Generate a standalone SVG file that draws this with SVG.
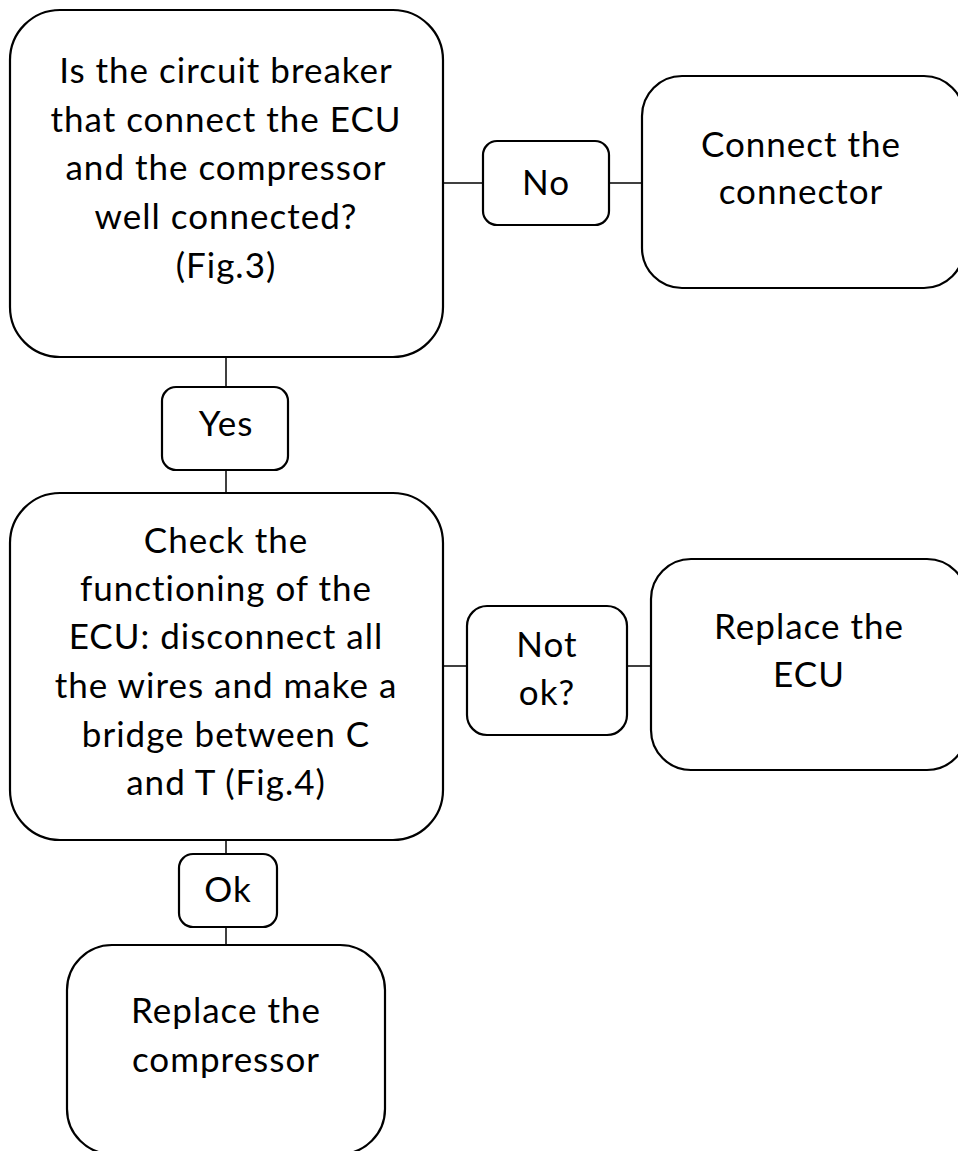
<svg xmlns="http://www.w3.org/2000/svg" width="958" height="1151" viewBox="0 0 958 1151">
<style>
.box{fill:#fff;stroke:#000;stroke-width:2.2}
.ln{stroke:#000;stroke-width:1.5;fill:none}
text{font-family:Lato,"Open Sans",sans-serif;font-size:35px;letter-spacing:1px;fill:#000;text-anchor:middle}
</style>
<rect width="958" height="1151" fill="#fff"/>
<g id="connectors">
<line class="ln" x1="443" y1="183" x2="483" y2="183"/>
<line class="ln" x1="609" y1="183" x2="642" y2="183"/>
<line class="ln" x1="226" y1="357" x2="226" y2="387"/>
<line class="ln" x1="226" y1="470" x2="226" y2="493"/>
<line class="ln" x1="443" y1="666" x2="467" y2="666"/>
<line class="ln" x1="627" y1="666" x2="651" y2="666"/>
<line class="ln" x1="226" y1="840" x2="226" y2="854"/>
<line class="ln" x1="226" y1="927" x2="226" y2="945"/>
</g>
<g id="q1">
<rect class="box" x="10" y="10" width="433" height="347" rx="50"/>
<text x="226" y="83">Is the circuit breaker</text>
<text x="226" y="132">that connect the ECU</text>
<text x="226" y="180">and the compressor</text>
<text x="226" y="229">well connected?</text>
<text x="226" y="278">(Fig.3)</text>
</g>
<g id="no">
<rect class="box" x="483" y="141" width="126" height="84" rx="14"/>
<text x="546" y="195">No</text>
</g>
<g id="connect">
<rect class="box" x="642" y="76" width="322" height="212" rx="40"/>
<text x="801" y="157">Connect the</text>
<text x="801" y="204">connector</text>
</g>
<g id="yes">
<rect class="box" x="162" y="387" width="126" height="83" rx="14"/>
<text x="226" y="436">Yes</text>
</g>
<g id="check">
<rect class="box" x="10" y="493" width="433" height="347" rx="50"/>
<text x="226" y="553">Check the</text>
<text x="226" y="601">functioning of the</text>
<text x="226" y="649">ECU: disconnect all</text>
<text x="226" y="698">the wires and make a</text>
<text x="226" y="747">bridge between C</text>
<text x="226" y="795">and T (Fig.4)</text>
</g>
<g id="notok">
<rect class="box" x="467" y="606" width="160" height="129" rx="20"/>
<text x="547" y="657">Not</text>
<text x="547" y="705">ok?</text>
</g>
<g id="replaceecu">
<rect class="box" x="651" y="559" width="316" height="211" rx="40"/>
<text x="809" y="639">Replace the</text>
<text x="809" y="687">ECU</text>
</g>
<g id="ok">
<rect class="box" x="179" y="854" width="98" height="73" rx="14"/>
<text x="228" y="902">Ok</text>
</g>
<g id="replacecomp">
<rect class="box" x="67" y="945" width="318" height="209" rx="45"/>
<text x="226" y="1023">Replace the</text>
<text x="226" y="1072">compressor</text>
</g>
</svg>
